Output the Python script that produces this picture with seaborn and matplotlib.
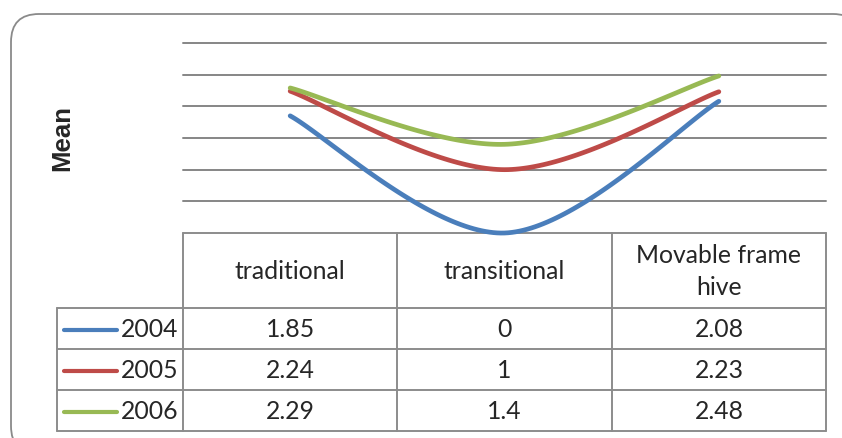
import numpy as np
import pandas as pd
import matplotlib
matplotlib.use("Agg")
import matplotlib.pyplot as plt
from matplotlib.patches import FancyBboxPatch
import seaborn as sns

# Mean scores by hive type and year
categories = ["traditional", "transitional", "Movable frame\nhive"]
years = ["2004", "2005", "2006"]
mean_2004 = [1.85, 0, 2.08]
mean_2005 = [2.24, 1, 2.23]
mean_2006 = [2.29, 1.4, 2.48]
value_labels = [["1.85", "0", "2.08"], ["2.24", "1", "2.23"], ["2.29", "1.4", "2.48"]]
y_ticks = [0, 0.5, 1.0, 1.5, 2.0, 2.5, 3.0]

colors = {"2004": "#4A7EBB", "2005": "#BE4B48", "2006": "#98B954"}
grid_color = "#868686"
font = ["Lato", "DejaVu Sans"]

sns.set_theme(style="white")
plt.rcParams["font.family"] = font


def smooth(values, n=60):
    """Catmull-Rom style smoothing through the category points."""
    p = np.array([[i, v] for i, v in enumerate(values)], dtype=float)
    ext = np.vstack([p[0], p, p[-1]])
    xs, ys = [], []
    for i in range(len(p) - 1):
        p0, p1, p2, p3 = ext[i], ext[i + 1], ext[i + 2], ext[i + 3]
        c1 = p1 + (p2 - p0) / 6.0
        c2 = p2 - (p3 - p1) / 6.0
        t = np.linspace(0, 1, n)[:, None]
        b = ((1 - t) ** 3) * p1 + 3 * ((1 - t) ** 2) * t * c1 + 3 * (1 - t) * t ** 2 * c2 + t ** 3 * p2
        if i > 0:
            b = b[1:]
        xs.append(b[:, 0])
        ys.append(b[:, 1])
    return np.concatenate(xs), np.concatenate(ys)


frames = []
for yr, vals in zip(years, [mean_2004, mean_2005, mean_2006]):
    sx, sy = smooth(vals)
    frames.append(pd.DataFrame({"x": sx, "y": sy, "year": yr}))
df = pd.concat(frames, ignore_index=True)

W, H = 842, 438
fig = plt.figure(figsize=(W / 100, H / 100), dpi=100)

# overlay axes in pixel units for frame and data table
ov = fig.add_axes([0, 0, 1, 1])
ov.set_xlim(0, W)
ov.set_ylim(H, 0)
ov.axis("off")

ov.add_patch(FancyBboxPatch((11, 14), 850, 440, boxstyle="round,pad=0,rounding_size=28",
                            fc="white", ec="#8a8a8a", lw=1.3, zorder=0))

left, right, top, bottom = 183, 826, 43, 233
ax = fig.add_axes([left / W, 1 - bottom / H, (right - left) / W, (bottom - top) / H])
ax.set_zorder(2)
ax.patch.set_alpha(0)
for yt in y_ticks[1:]:
    ax.axhline(yt, color=grid_color, lw=1.4, zorder=1)

sns.lineplot(data=df, x="x", y="y", hue="year", units="year", estimator=None, sort=False,
             palette=colors, lw=3.4, legend=False, ax=ax, zorder=3)
for ln in ax.lines:
    ln.set_clip_on(False)
    ln.set_solid_capstyle("round")
ax.set_xlim(-0.5, 2.5)
ax.set_ylim(0, 3.0)
ax.set_xticks([])
ax.set_yticks([])
ax.set_xlabel("")
ax.set_ylabel("")
for s in ax.spines.values():
    s.set_visible(False)

ov.text(62, 138, "Mean", rotation=90, ha="center", va="center", fontsize=18.5,
        fontweight="bold", family=["Liberation Sans", "DejaVu Sans"])

# data table
tcol = "#8c8c8c"
cols = [183, 397, 612, 826]
rows = [233, 308, 349, 390, 431]
leg_left = 57
tw = 1.4
ov.plot([cols[0], cols[-1]], [rows[0], rows[0]], color=tcol, lw=tw)
for yv in rows[1:]:
    ov.plot([leg_left, cols[-1]], [yv, yv], color=tcol, lw=tw)
for xv in cols:
    ov.plot([xv, xv], [rows[0], rows[-1]], color=tcol, lw=tw)
ov.plot([leg_left, leg_left], [rows[1], rows[-1]], color=tcol, lw=tw)

fs = 17.8
for j, cat in enumerate(categories):
    cx = (cols[j] + cols[j + 1]) / 2
    ov.text(cx, (rows[0] + rows[1]) / 2 + 1, cat, ha="center", va="center", fontsize=fs,
            linespacing=1.45)
for i, yr in enumerate(years):
    cy = (rows[i + 1] + rows[i + 2]) / 2 + 1
    ov.plot([64, 117], [cy, cy], color=colors[yr], lw=3.0, solid_capstyle="round")
    ov.text(121, cy, yr, ha="left", va="center", fontsize=fs)
    for j in range(3):
        cx = (cols[j] + cols[j + 1]) / 2
        ov.text(cx, cy, value_labels[i][j], ha="center", va="center", fontsize=fs)

fig.savefig("out.png", dpi=100)
